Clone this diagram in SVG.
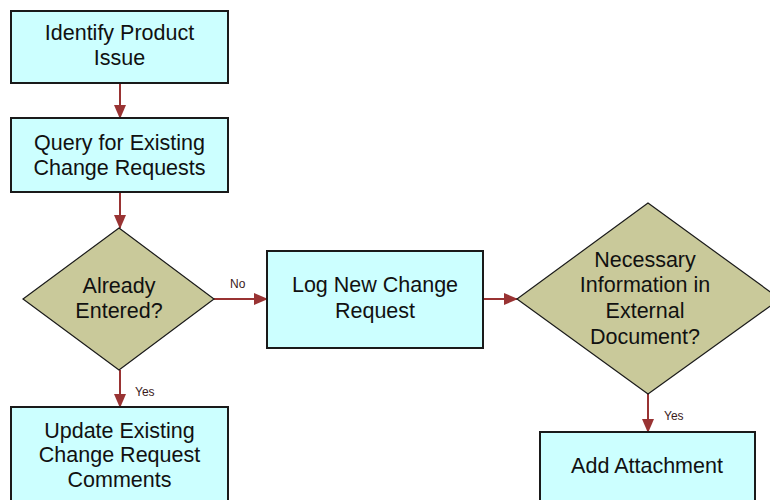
<svg xmlns="http://www.w3.org/2000/svg" width="770" height="500" viewBox="0 0 770 500">
<style>
.box{fill:#CCFFFF;stroke:#1a1a1a;stroke-width:2}
.dia{fill:#C9C99A;stroke:#1a1a1a;stroke-width:1.2}
.t{font-family:"Liberation Sans",Arial,sans-serif;font-size:21.5px;fill:#111;text-anchor:middle}
.lbl{font-family:"Liberation Sans",Arial,sans-serif;font-size:12px;fill:#3a1a1a;text-anchor:start}
.c{stroke:#993333;stroke-width:2;fill:none;marker-end:url(#ah)}
</style>
<defs>
<marker id="ah" viewBox="0 0 14 12" refX="13" refY="6" markerWidth="14" markerHeight="12" markerUnits="userSpaceOnUse" orient="auto">
<path d="M0,0 L14,6 L0,12 Z" fill="#993333"/>
</marker>
</defs>
<rect width="770" height="500" fill="#fff"/>
<g id="connectors">
<path class="c" d="M120,83 L120,118"/>
<path class="c" d="M120,192 L120,228"/>
<path class="c" d="M214,299 L267,299"/>
<path class="c" d="M120,370 L120,407"/>
<path class="c" d="M483,299 L517,299"/>
<path class="c" d="M648,394 L648,432"/>
<text class="lbl" x="230" y="288">No</text>
<text class="lbl" x="135" y="396">Yes</text>
<text class="lbl" x="664" y="420">Yes</text>
</g>
<g id="identify">
<rect class="box" x="11" y="11" width="217" height="72"/>
<text class="t" x="119.5" y="40">Identify Product</text>
<text class="t" x="119.5" y="65">Issue</text>
</g>
<g id="query">
<rect class="box" x="11" y="118" width="217" height="74"/>
<text class="t" x="119.5" y="150">Query for Existing</text>
<text class="t" x="119.5" y="175">Change Requests</text>
</g>
<g id="already">
<polygon class="dia" points="119,228 214,299 119,370 23,299"/>
<text class="t" x="119" y="293">Already</text>
<text class="t" x="119" y="318">Entered?</text>
</g>
<g id="update">
<rect class="box" x="11" y="407" width="217" height="100"/>
<text class="t" x="119.5" y="438">Update Existing</text>
<text class="t" x="119.5" y="462">Change Request</text>
<text class="t" x="119.5" y="487">Comments</text>
</g>
<g id="lognew">
<rect class="box" x="267" y="251" width="216" height="97"/>
<text class="t" x="375" y="292">Log New Change</text>
<text class="t" x="375" y="318">Request</text>
</g>
<g id="necessary">
<polygon class="dia" points="648,203 780,299 648,394 517,299"/>
<text class="t" x="645" y="267">Necessary</text>
<text class="t" x="645" y="292">Information in</text>
<text class="t" x="645" y="318">External</text>
<text class="t" x="645" y="344">Document?</text>
</g>
<g id="attach">
<rect class="box" x="540" y="432" width="215" height="80"/>
<text class="t" x="647" y="473">Add Attachment</text>
</g>
</svg>
